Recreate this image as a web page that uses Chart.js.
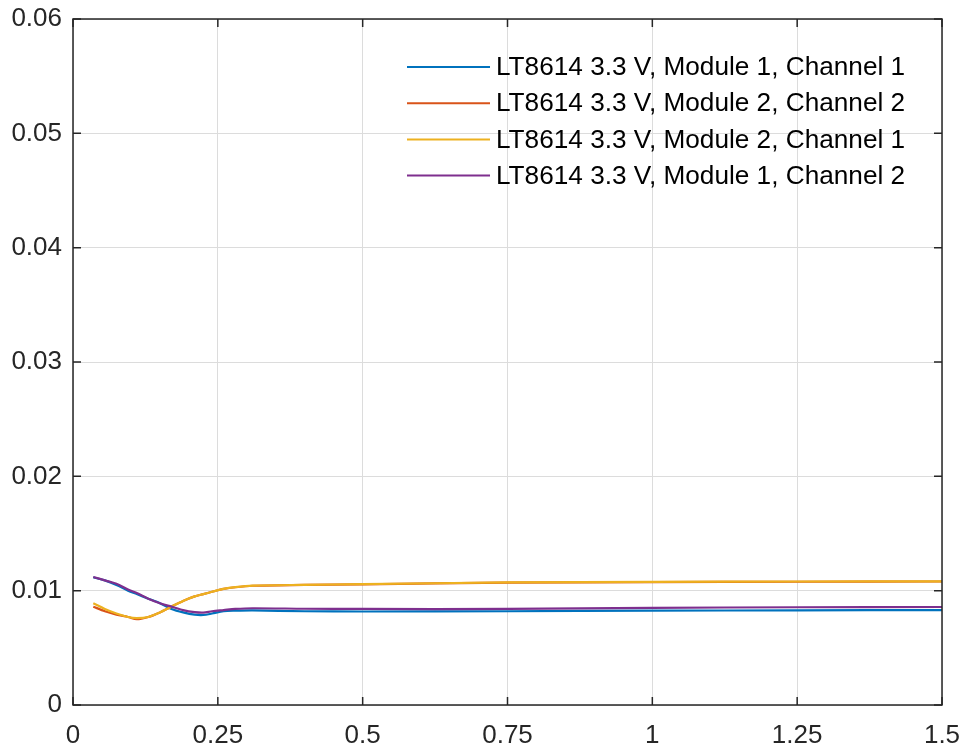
<!DOCTYPE html>
<html>
<head>
<meta charset="utf-8">
<title>LT8614 3.3 V</title>
<script src="https://cdn.jsdelivr.net/npm/chart.js@4/dist/chart.umd.min.js"></script>
<style>
  html, body { margin: 0; padding: 0; background: #fff; }
  #wrap { width: 965px; height: 754px; }
</style>
</head>
<body>
<div id="wrap"><canvas id="chart" width="965" height="754"></canvas></div>
<script>
// x positions of the samples (shared by all four curves)
const xValues = [0.035, 0.055, 0.075, 0.095, 0.11, 0.13, 0.15, 0.17, 0.19, 0.21, 0.225, 0.24, 0.26, 0.28, 0.31, 0.4, 0.5, 0.75, 1.0, 1.25, 1.5];

const mod1Ch1 = [0.01117, 0.0109, 0.0105, 0.0100, 0.0097, 0.0093, 0.0089, 0.0084, 0.0081, 0.0079, 0.00787, 0.0080, 0.0082, 0.00825, 0.00828, 0.0082, 0.00818, 0.0082, 0.00825, 0.00828, 0.0083];
const mod2Ch2 = [0.0086, 0.0082, 0.0079, 0.0077, 0.0075, 0.0077, 0.0081, 0.0086, 0.0091, 0.0095, 0.0097, 0.0099, 0.01015, 0.0103, 0.01043, 0.0105, 0.01055, 0.0107, 0.01075, 0.01078, 0.0108];
const mod2Ch1 = [0.0089, 0.0084, 0.0080, 0.0077, 0.0076, 0.0077, 0.0081, 0.0086, 0.0091, 0.0095, 0.0097, 0.0099, 0.01016, 0.01031, 0.01044, 0.01051, 0.01057, 0.01072, 0.01077, 0.0108, 0.01082];
const mod1Ch2 = [0.0112, 0.0109, 0.0106, 0.0101, 0.0098, 0.0093, 0.0089, 0.0086, 0.0083, 0.00812, 0.00808, 0.0082, 0.0083, 0.0084, 0.00846, 0.00842, 0.0084, 0.0084, 0.0085, 0.00855, 0.00857];

const seriesNames = [
  "LT8614 3.3 V, Module 1, Channel 1",
  "LT8614 3.3 V, Module 2, Channel 2",
  "LT8614 3.3 V, Module 2, Channel 1",
  "LT8614 3.3 V, Module 1, Channel 2"
];
const seriesValues = [mod1Ch1, mod2Ch2, mod2Ch1, mod1Ch2];
const seriesColors = ["#0072BD", "#D95319", "#EDB120", "#7E2F8E"];

const xTicks = [0, 0.25, 0.5, 0.75, 1, 1.25, 1.5];
const xTickLabels = ["0", "0.25", "0.5", "0.75", "1", "1.25", "1.5"];
const yTicks = [0, 0.01, 0.02, 0.03, 0.04, 0.05, 0.06];
const yTickLabels = ["0", "0.01", "0.02", "0.03", "0.04", "0.05", "0.06"];

const FONT = "'Liberation Sans', Arial, sans-serif";
const AXIS_COLOR = "#262626";

const datasets = seriesValues.map((vals, i) => ({
  label: seriesNames[i],
  data: xValues.map((x, j) => ({ x: x, y: vals[j] })),
  borderColor: seriesColors[i],
  backgroundColor: seriesColors[i],
  borderWidth: 2.2,
  pointRadius: 0,
  tension: 0.3,
  fill: false,
  // later series drawn on top, like MATLAB
  order: seriesValues.length - i
}));

// box round the axes with inward tick marks on all four sides
const boxPlugin = {
  id: "box",
  afterDatasetsDraw(chart) {
    const { ctx, chartArea: a, scales } = chart;
    ctx.save();
    ctx.strokeStyle = AXIS_COLOR;
    ctx.lineWidth = 1.5;
    ctx.strokeRect(a.left, a.top, a.right - a.left, a.bottom - a.top);
    const len = 8;
    ctx.beginPath();
    xTicks.forEach(v => {
      const px = scales.x.getPixelForValue(v);
      ctx.moveTo(px, a.bottom); ctx.lineTo(px, a.bottom - len);
      ctx.moveTo(px, a.top); ctx.lineTo(px, a.top + len);
    });
    yTicks.forEach(v => {
      const py = scales.y.getPixelForValue(v);
      ctx.moveTo(a.left, py); ctx.lineTo(a.left + len, py);
      ctx.moveTo(a.right, py); ctx.lineTo(a.right - len, py);
    });
    ctx.stroke();
    ctx.restore();
  }
};

// legend in the upper right, no frame
const legendPlugin = {
  id: "innerLegend",
  afterDatasetsDraw(chart) {
    const { ctx } = chart;
    ctx.save();
    ctx.font = "26.2px " + FONT;
    ctx.textBaseline = "middle";
    ctx.textAlign = "left";
    seriesNames.forEach((name, i) => {
      const y = 67 + i * 36.2;
      ctx.strokeStyle = seriesColors[i];
      ctx.lineWidth = 2;
      ctx.beginPath();
      ctx.moveTo(407, y);
      ctx.lineTo(490, y);
      ctx.stroke();
      ctx.fillStyle = "#000";
      ctx.fillText(name, 496, y + 1);
    });
    ctx.restore();
  }
};

// drop the label overhang padding so the layout padding alone places the plot box
function noOverhang(s) {
  s.paddingLeft = 0; s.paddingRight = 0; s.paddingTop = 0; s.paddingBottom = 0;
}

new Chart(document.getElementById("chart"), {
  type: "line",
  data: { datasets: datasets },
  options: {
    responsive: false,
    animation: false,
    devicePixelRatio: 1,
    layout: { padding: { top: 19, right: 23, left: 0, bottom: 0 } },
    plugins: { legend: { display: false }, tooltip: { enabled: false } },
    scales: {
      x: {
        type: "linear",
        min: 0,
        max: 1.5,
        afterBuildTicks: s => { s.ticks = xTicks.map(v => ({ value: v })); },
        afterFit: s => { s.height = 49; noOverhang(s); },
        ticks: {
          callback: (v) => xTickLabels[xTicks.indexOf(v)],
          font: { family: FONT, size: 26 },
          color: AXIS_COLOR,
          padding: 15,
          maxRotation: 0
        },
        grid: { color: "#dcdcdc", lineWidth: 1, drawTicks: false },
        border: { display: false }
      },
      y: {
        type: "linear",
        min: 0,
        max: 0.06,
        afterBuildTicks: s => { s.ticks = yTicks.map(v => ({ value: v })); },
        afterFit: s => { s.width = 73; noOverhang(s); },
        ticks: {
          callback: (v) => yTickLabels[yTicks.indexOf(v)],
          font: { family: FONT, size: 26 },
          color: AXIS_COLOR,
          padding: 11
        },
        grid: { color: "#dcdcdc", lineWidth: 1, drawTicks: false },
        border: { display: false }
      }
    }
  },
  plugins: [boxPlugin, legendPlugin]
});
</script>
</body>
</html>
